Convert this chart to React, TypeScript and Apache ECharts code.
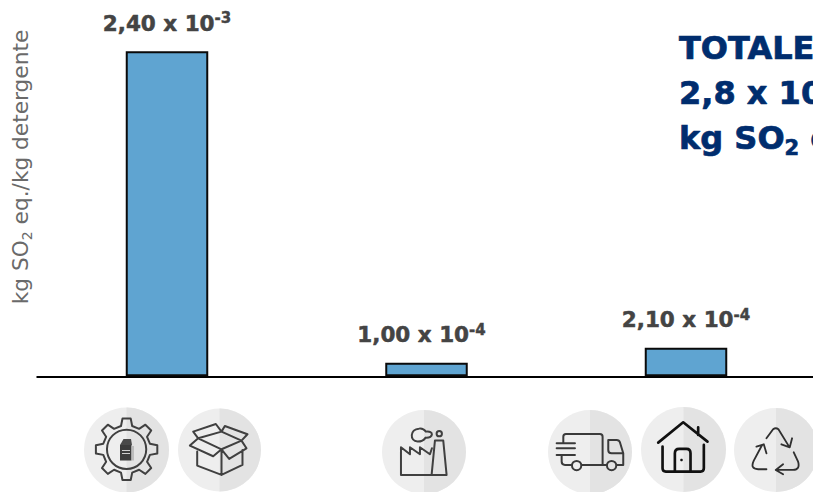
import React, { useEffect, useRef } from "react";
import * as echarts from "echarts";

const FONT = '"DejaVu Sans", Verdana, sans-serif';

// Life-cycle phases and their acidification values (kg SO2 eq. per kg of detergent)
const phases = ["Produzione e imballaggio", "Stabilimento", "Distribuzione, uso e fine vita"];
const acidification = [2.4e-3, 1.0e-4, 2.1e-4];
const labelShifts = [0, -5, 0];

const axisTitle = ["kg SO", "2", " eq./kg detergente"];
const totalHeading = "TOTALE";
const totalValue = ["2,8 x 10", "-3"];
const totalUnit = ["kg SO", "2", " eq./kg detergente"];

// Icon badges: centre x, centre y, radius, and icon id
const badges: [number, number, number, string][] = [
  [126.5, 450, 42.5, "gear"],
  [219.5, 450, 41.5, "box"],
  [424, 452, 42, "factory"],
  [590, 452, 42, "truck"],
  [683.5, 449.5, 42.5, "house"],
  [776, 450, 42, "recycle"],
];

function gearPath(cx: number, cy: number, outer: number, root: number, teeth: number) {
  const step = (Math.PI * 2) / teeth;
  let d = "";
  for (let i = 0; i < teeth; i++) {
    const a = -Math.PI / 2 + i * step;
    const pts = [
      [root, a - step * 0.3],
      [outer, a - step * 0.17],
      [outer, a + step * 0.17],
      [root, a + step * 0.3],
    ];
    pts.forEach(([r, t], j) => {
      const cmd = i === 0 && j === 0 ? "M" : "L";
      d += `${cmd}${(cx + r * Math.cos(t)).toFixed(1)},${(cy + r * Math.sin(t)).toFixed(1)} `;
    });
  }
  return d + "Z";
}

const circle = (cx: number, cy: number, r: number) =>
  `M${cx - r},${cy} a${r},${r} 0 1,0 ${r * 2},0 a${r},${r} 0 1,0 ${-r * 2},0 Z`;

// Icon outlines, drawn at three times their display size
const iconPaths: Record<string, string> = {
  gear: gearPath(200, 163, 93, 72, 8) + " " + circle(200, 163, 59),
  box:
    "M412,170 L412,212 L485,240 L548,210 L548,165 M485,165 L485,240 " +
    "M415,130 L400,110 L468,87 L485,110 Z M485,110 L495,93 L563,118 L545,137 Z " +
    "M415,130 L390,152 L460,184 L485,163 Z M545,137 L485,163 L508,192 L560,160 Z",
  factory:
    "M93,240 L93,157 L120,178 L120,157 L150,178 L150,157 L180,178 L186,160 " +
    "M93,240 L230,240 M185,240 L195,137 L220,137 L230,240 " +
    "M143,140 C118,138 120,102 147,101 C157,99 165,106 168,110 C192,106 192,130 167,128 C162,136 152,140 143,140 Z " +
    circle(208, 116, 8),
  truck:
    "M70,145 L70,125 Q70,117 78,117 L180,117 Q188,117 188,125 L188,210 L125,210 " +
    "M95,210 L75,210 Q65,210 65,200 L65,182 " +
    "M50,145 L105,145 M50,160 L105,160 M50,180 L105,180 " +
    "M205,135 L230,135 Q238,135 240,142 L250,175 L250,210 L232,210 M188,210 L200,210 " +
    "M205,135 L205,165 Q205,175 215,175 L250,175 " +
    circle(110, 212, 14) + " " + circle(215, 212, 14),
  house:
    "M355,143 L430,82 L503,140 M475,97 L475,120 " +
    "M368,155 L368,220 Q368,230 378,230 L482,230 Q492,230 492,220 L492,150 " +
    "M405,230 L405,175 Q405,162 418,162 L440,162 Q452,162 452,175 L452,230",
  recycle:
    "M680,130 L700,103 Q708,97 716,103 L748,155 M757,130 L750,157 L725,148 " +
    "M667,150 L642,197 Q630,222 655,223 L680,223 M650,155 L672,148 L680,175 " +
    "M762,172 L775,200 Q782,224 760,225 L708,225 M730,208 L708,225 L730,238",
};

// Offset of each icon's drawing space on the page
const iconOrigins: Record<string, [number, number]> = {
  gear: [60, 395],
  box: [60, 395],
  factory: [370, 395],
  truck: [540, 395],
  house: [540, 395],
  recycle: [540, 395],
};
const iconStrokes: Record<string, [string, number]> = {
  gear: ["#404040", 6],
  box: ["#404040", 6],
  factory: ["#404040", 6],
  truck: ["#3a3a3a", 6],
  house: ["#111111", 8],
  recycle: ["#303030", 5.5],
};

Object.keys(iconPaths).forEach((k) => {
  echarts.graphic.registerShape("icon-" + k, echarts.graphic.extendPath(iconPaths[k], {}) as any);
});

function valueLabel(v: number) {
  const [m, e] = v.toExponential(2).split("e");
  return `{v|${m.replace(".", ",")} x 10}{s|${Number(e)}}`;
}

export default function App() {
  const ref = useRef<HTMLDivElement>(null);
  useEffect(() => {
    const chart = echarts.init(ref.current!, undefined, { renderer: "svg" });
    const navy = "#002D6E";
    const titleSize = 32;
    const lh = titleSize * 1.3;
    const heavy = { stroke: navy, lineWidth: 0.7 };
    const t = { fontFamily: FONT, fontWeight: "bold", fontSize: titleSize, fill: navy, lineHeight: lh, ...heavy };
    const small = { fontFamily: FONT, fontWeight: "bold", fontSize: 21, fill: navy, lineHeight: lh, ...heavy };
    const elements: any[] = [];

    badges.forEach(([cx, cy, r, id]) => {
      elements.push({ type: "circle", shape: { cx, cy, r }, style: { fill: "#EEEEEE" }, silent: true });
      elements.push({
        type: "sector",
        shape: { cx, cy, r, r0: 0, startAngle: -Math.PI / 2, endAngle: Math.PI / 2 },
        style: { fill: "#E3E3E3" },
        silent: true,
      });
      const [ox, oy] = iconOrigins[id];
      const [stroke, lineWidth] = iconStrokes[id];
      elements.push({
        type: "icon-" + id,
        x: ox,
        y: oy,
        scaleX: 1 / 3,
        scaleY: 1 / 3,
        style: { fill: "none", stroke, lineWidth, lineJoin: "round", lineCap: "round" },
        silent: true,
      });
    });

    // Details that need a solid fill: the carton inside the gear and the door knob
    elements.push(
      { type: "rect", shape: { x: 120, y: 445, width: 11.5, height: 15.5 }, style: { fill: "#3c3c3c" }, z: 5, silent: true },
      { type: "rect", shape: { x: 131.5, y: 446, width: 2.5, height: 14.5 }, style: { fill: "#bdbdbd" }, z: 5, silent: true },
      { type: "polygon", shape: { points: [[120, 445], [123.5, 439], [131, 439], [132, 445]] }, style: { fill: "#4a4a4a" }, z: 5, silent: true },
      { type: "rect", shape: { x: 122, y: 450, width: 8, height: 1 }, style: { fill: "#cfcfcf" }, z: 6, silent: true },
      { type: "rect", shape: { x: 122, y: 453, width: 8, height: 1 }, style: { fill: "#cfcfcf" }, z: 6, silent: true },
      { type: "circle", shape: { cx: 681.5, cy: 460, r: 1.3 }, style: { fill: "#111111" }, z: 6, silent: true },
    );

    // Vertical axis title, centred on the tallest bar
    elements.push({
      type: "text",
      x: 20,
      y: 167,
      rotation: Math.PI / 2,
      style: {
        text: `{n|${axisTitle[0]}}{b|${axisTitle[1]}}{n|${axisTitle[2]}}`,
        align: "center",
        verticalAlign: "middle",
        rich: {
          n: { fontFamily: FONT, fontSize: 21.7, fill: "#6A6A6A", lineHeight: 28 },
          b: { fontFamily: FONT, fontSize: 14, fill: "#6A6A6A", verticalAlign: "bottom", lineHeight: 28 },
        },
      },
      silent: true,
    });

    // Total block, running off the right edge of the page
    const textAt = (y: number, text: string, rich: any) => ({
      type: "text",
      x: 679,
      y,
      style: { text, rich, verticalAlign: "middle" },
      silent: true,
    });
    elements.push(
      textAt(48, `{t|${totalHeading}}`, { t }),
      textAt(93, `{t|${totalValue[0]}}{u|${totalValue[1]}}`, { t, u: { ...small, verticalAlign: "top" } }),
      textAt(138, `{t|${totalUnit[0]}}{d|${totalUnit[1]}}{t|${totalUnit[2]}}`, {
        t,
        d: { ...small, verticalAlign: "bottom" },
      }),
    );

    chart.setOption({
      animation: false,
      grid: { left: 37.25, top: 24.2, width: 778.5, height: 352.08, containLabel: false, outerBoundsMode: "none" },
      xAxis: {
        type: "category",
        data: phases,
        axisLine: { show: true, lineStyle: { color: "#000000", width: 2 } },
        axisTick: { show: false },
        axisLabel: { show: false },
      },
      yAxis: {
        type: "value",
        min: 0,
        max: 0.0026,
        interval: 0.0002,
        axisLine: { show: false },
        axisTick: { show: false },
        axisLabel: { show: false },
        splitLine: { show: false },
      },
      series: [
        {
          type: "bar",
          data: acidification.map((value, i) => ({ value, label: { offset: [labelShifts[i], 0] } })),
          barWidth: 82.5,
          itemStyle: { color: "#5FA4D1", borderColor: "#0a0a0a", borderWidth: 2 },
          label: {
            show: true,
            position: "top",
            distance: 15.5,
            formatter: (p: any) => valueLabel(p.value),
            rich: {
              v: { fontFamily: FONT, fontWeight: "bold", fontSize: 21.5, color: "#444444", lineHeight: 25, textBorderColor: "#444444", textBorderWidth: 0.5 },
              s: { fontFamily: FONT, fontWeight: "bold", fontSize: 15, color: "#444444", verticalAlign: "top", lineHeight: 25, textBorderColor: "#444444", textBorderWidth: 0.4 },
            },
          },
        },
      ],
      graphic: { elements },
    });
    return () => chart.dispose();
  }, []);
  return (
    <div
      ref={ref}
      style={{ position: "fixed", left: 0, top: 0, width: 813, height: 492, background: "#ffffff", overflow: "hidden" }}
    />
  );
}
